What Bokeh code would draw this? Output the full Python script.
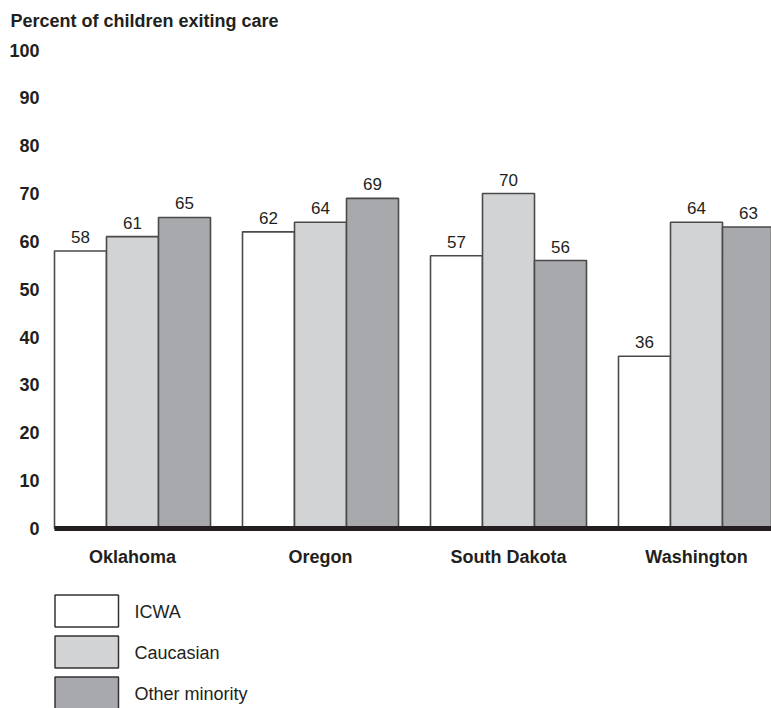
from bokeh.plotting import figure
from bokeh.models import ColumnDataSource, Range1d
from bokeh.core.properties import value
from bokeh.embed import file_html
from bokeh.resources import INLINE

# ---- data ----
states = ["Oklahoma", "Oregon", "South Dakota", "Washington"]
series = ["ICWA", "Caucasian", "Other minority"]
icwa = [58, 62, 57, 36]
caucasian = [61, 64, 70, 64]
other = [65, 69, 56, 63]
y_ticks = [0, 10, 20, 30, 40, 50, 60, 70, 80, 90, 100]
title_text = "Percent of children exiting care"

# ---- styling / geometry ----
FONT = "Liberation Sans"
TXT = "#231f20"
fills = ["#ffffff", "#d1d3d4", "#a7a9ac"]
PX_X = 188.0           # px per x unit (one group)
PX_Y = 4.785           # px per percent
BASE_PX = 528.0        # pixel row of 0
W, H = 771, 708
GROUP0_PX = 132.0
bw = 52.0 / PX_X

def xd(px):
    return (px - GROUP0_PX) / PX_X

def yd(py):
    return (BASE_PX - py) / PX_Y

p = figure(width=W, height=H, output_backend="svg", toolbar_location=None,
           x_axis_location=None, y_axis_location=None,
           x_range=Range1d(xd(0), xd(W)), y_range=Range1d(yd(H), yd(0)),
           min_border=0, tools="")
p.outline_line_color = None
p.grid.visible = False
p.background_fill_color = "white"
p.border_fill_color = "white"

values = [icwa, caucasian, other]
for k, vals in enumerate(values):
    xs = [i + (k - 1) * bw for i in range(len(states))]
    src = ColumnDataSource(dict(x=xs, top=vals,
                                ly=[v + 14.0 / PX_Y for v in vals],
                                lab=[str(v) for v in vals]))
    p.vbar(x="x", top="top", bottom=0, width=bw, source=src,
           fill_color=fills[k], line_color="#4a4a4a", line_width=1.6)
    p.text(x="x", y="ly", text="lab", source=src,
           text_font=value(FONT), text_font_size="17px",
           text_align="center", text_baseline="middle", text_color=TXT)

# baseline
p.segment(x0=[xd(54)], y0=[0], x1=[xd(W + 5)], y1=[0],
          line_color=TXT, line_width=5)

# y tick labels
p.text(x=[xd(39)] * len(y_ticks), y=y_ticks, text=[str(t) for t in y_ticks],
       text_font=value(FONT), text_font_size="18px", text_font_style="bold",
       text_align="right", text_baseline="middle", text_color=TXT)

# category labels
p.text(x=list(range(len(states))), y=[yd(556)] * len(states), text=states,
       text_font=value(FONT), text_font_size="18px", text_font_style="bold",
       text_align="center", text_baseline="middle", text_color=TXT)

# title
p.text(x=[xd(10)], y=[yd(20)], text=[title_text],
       text_font=value(FONT), text_font_size="18px", text_font_style="bold",
       text_align="left", text_baseline="middle", text_color=TXT)

# legend
tops_px = [594.5, 635.5, 676.5]
for k, name in enumerate(series):
    tp = tops_px[k]
    p.quad(left=[xd(54.5)], right=[xd(118)], top=[yd(tp)], bottom=[yd(tp + 32)],
           fill_color=fills[k], line_color="#333333", line_width=1.5)
    p.text(x=[xd(134)], y=[yd(tp + 16.5)], text=[name],
           text_font=value(FONT), text_font_size="18px",
           text_align="left", text_baseline="middle", text_color=TXT)

open("out.html", "w").write(file_html(p, INLINE))
